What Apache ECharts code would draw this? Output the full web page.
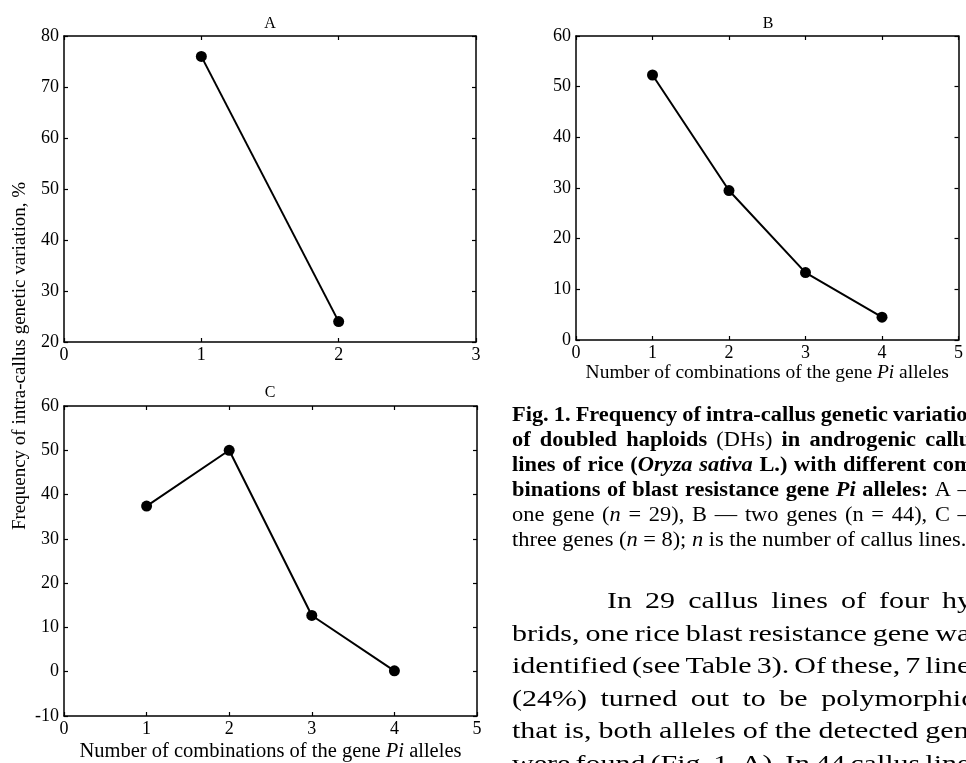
<!DOCTYPE html>
<html>
<head>
<meta charset="utf-8">
<script src="https://cdn.jsdelivr.net/npm/echarts@6/dist/echarts.min.js"></script>
<style>
html, body { margin: 0; padding: 0; background: #fff; }
#main { width: 966px; height: 763px; }
</style>
</head>
<body>
<div id="main"></div>
<script>
// panel data: x = number of allele combinations, y = frequency, %
var combosA = [1, 2];
var freqA = [76, 24];
var combosB = [1, 2, 3, 4];
var freqB = [52.3, 29.5, 13.3, 4.5];
var combosC = [1, 2, 3, 4];
var freqC = [37.4, 50, 12.7, 0.2];

var panelTitles = ['A', 'B', 'C'];
var xRanges = [[0, 3], [0, 5], [0, 5]];
var yRanges = [[20, 80], [0, 60], [-10, 60]];

var serif = 'Liberation Serif';
var xName = 'Number of combinations of the gene {i|Pi} alleles';
var yName = 'Frequency of intra-callus genetic variation, %';

// caption + body text, [style, text] pieces per printed line
var captionLines = [
	[['b', 'Fig. 1. Frequency of intra-callus genetic variation']],
	[['b', 'of doubled haploids '], ['r', '(DHs)'], ['b', ' in androgenic callus']],
	[['b', 'lines of rice ('], ['bi', 'Oryza sativa'], ['b', ' L.) with different com-']],
	[['b', 'binations of blast resistance gene '], ['bi', 'Pi'], ['b', ' alleles: '], ['r', 'A \u2014']],
	[['r', 'one gene ('], ['i', 'n'], ['r', ' = 29), B \u2014 two genes (n = 44), C \u2014']],
	[['r', 'three genes ('], ['i', 'n'], ['r', ' = 8); '], ['i', 'n'], ['r', ' is the number of callus lines.']]
];
var bodyLines = [
	[['r', 'In 29 callus lines of four hy-']],
	[['r', 'brids, one rice blast resistance gene was']],
	[['r', 'identified (see Table 3). Of these, 7 lines']],
	[['r', '(24%) turned out to be polymorphic,']],
	[['r', 'that is, both alleles of the detected gene']],
	[['r', 'were found (Fig. 1, A). In 44 callus lines']]
];

var chart = echarts.init(document.getElementById('main'));

var grids = [
	{left: 64, top: 36, width: 412, height: 306},
	{left: 576, top: 36, width: 384, height: 304},
	{left: 64, top: 406, width: 413, height: 312}
];
var nameSizes = [0, 19.5, 20.5];
var nameGaps = [0, 23, 25];

var frameLine = {show: true, onZero: false, lineStyle: {color: '#000', width: 1.5}};
var inTick = {show: true, inside: true, length: 4, lineStyle: {color: '#000', width: 1.2}};
var tickFont = {color: '#000', fontFamily: serif, fontSize: 18};

var xAxes = [], yAxes = [];
grids.forEach(function (g, i) {
	var named = i > 0;
	xAxes.push({
		type: 'value', gridIndex: i, position: 'bottom',
		min: xRanges[i][0], max: xRanges[i][1], interval: 1,
		axisLine: frameLine, axisTick: inTick, splitLine: {show: false},
		axisLabel: Object.assign({margin: 4}, tickFont),
		name: named ? xName : '', nameLocation: 'middle', nameGap: nameGaps[i],
		nameTextStyle: {
			color: '#000', fontFamily: serif, fontSize: nameSizes[i] || 19,
			rich: {i: {fontStyle: 'italic', fontFamily: serif, fontSize: nameSizes[i] || 19, color: '#000'}}
		}
	});
	xAxes.push({
		type: 'value', gridIndex: i, position: 'top',
		min: xRanges[i][0], max: xRanges[i][1], interval: 1,
		axisLine: frameLine, axisTick: inTick, axisLabel: {show: false}, splitLine: {show: false}
	});
	yAxes.push({
		type: 'value', gridIndex: i, position: 'left',
		min: yRanges[i][0], max: yRanges[i][1], interval: 10,
		axisLine: frameLine, axisTick: inTick, splitLine: {show: false},
		axisLabel: Object.assign({margin: 5}, tickFont)
	});
	yAxes.push({
		type: 'value', gridIndex: i, position: 'right',
		min: yRanges[i][0], max: yRanges[i][1], interval: 10,
		axisLine: frameLine, axisTick: inTick, axisLabel: {show: false}, splitLine: {show: false}
	});
});

function pairs(xs, ys) {
	return xs.map(function (x, k) { return [x, ys[k]]; });
}
var seriesData = [pairs(combosA, freqA), pairs(combosB, freqB), pairs(combosC, freqC)];

var series = seriesData.map(function (d, i) {
	return {
		type: 'line', data: d,
		xAxisIndex: i * 2, yAxisIndex: i * 2,
		symbol: 'circle', symbolSize: 11,
		lineStyle: {color: '#000', width: 2},
		itemStyle: {color: '#000'},
		animation: false
	};
});

// text measuring for justified lines
var ctx = document.createElement('canvas').getContext('2d');
function fontOf(style, size) {
	var f = '"' + serif + '"';
	if (style === 'b') return 'bold ' + size + 'px ' + f;
	if (style === 'bi') return 'italic bold ' + size + 'px ' + f;
	if (style === 'i') return 'italic ' + size + 'px ' + f;
	return size + 'px ' + f;
}
function textWidth(t, font) {
	ctx.font = font;
	return ctx.measureText(t).width;
}

function layoutLine(out, segs, x0, right, y, size, scale, justify) {
	var words = [[]];
	segs.forEach(function (s) {
		s[1].split(' ').forEach(function (p, j) {
			if (j > 0) words.push([]);
			if (p) words[words.length - 1].push([s[0], p]);
		});
	});
	words = words.filter(function (w) { return w.length; });
	var widths = words.map(function (w) {
		return w.reduce(function (acc, s) { return acc + textWidth(s[1], fontOf(s[0], size)) * scale; }, 0);
	});
	var total = widths.reduce(function (a, b) { return a + b; }, 0);
	var space = textWidth(' ', fontOf('r', size)) * scale;
	var gap = justify && words.length > 1 ? (right - x0 - total) / (words.length - 1) : space;
	var x = x0;
	words.forEach(function (w, k) {
		var sx = x;
		w.forEach(function (s) {
			var f = fontOf(s[0], size);
			out.push({
				type: 'text', x: sx, y: y, scaleX: scale, silent: true,
				style: {text: s[1], font: f, fill: '#000', verticalAlign: 'middle'}
			});
			sx += textWidth(s[1], f) * scale;
		});
		x += widths[k] + gap;
	});
}

var graphic = [];
// panel letters
var titlePos = [[270, 24], [768, 24], [270, 393]];
titlePos.forEach(function (p, i) {
	graphic.push({type: 'text', x: p[0], y: p[1], style: {text: panelTitles[i], font: '16px "' + serif + '"', fill: '#000', align: 'center', verticalAlign: 'middle'}});
});
// shared y axis name
graphic.push({
	type: 'text', x: 20, y: 356, rotation: Math.PI / 2,
	style: {text: yName, font: '19px "' + serif + '"', fill: '#000', align: 'center', verticalAlign: 'middle'}
});
// figure caption (justified, last line ragged)
captionLines.forEach(function (segs, k) {
	layoutLine(graphic, segs, 512, 980, 416 + k * 25, 20, 1.12, k < captionLines.length - 1);
});
// body paragraph, first line indented
bodyLines.forEach(function (segs, k) {
	layoutLine(graphic, segs, k === 0 ? 607 : 512, 982, 602 + k * 32.5, 24, 1.25, true);
});

chart.setOption({
	animation: false,
	grid: grids,
	xAxis: xAxes,
	yAxis: yAxes,
	series: series,
	graphic: graphic
});
</script>
</body>
</html>
